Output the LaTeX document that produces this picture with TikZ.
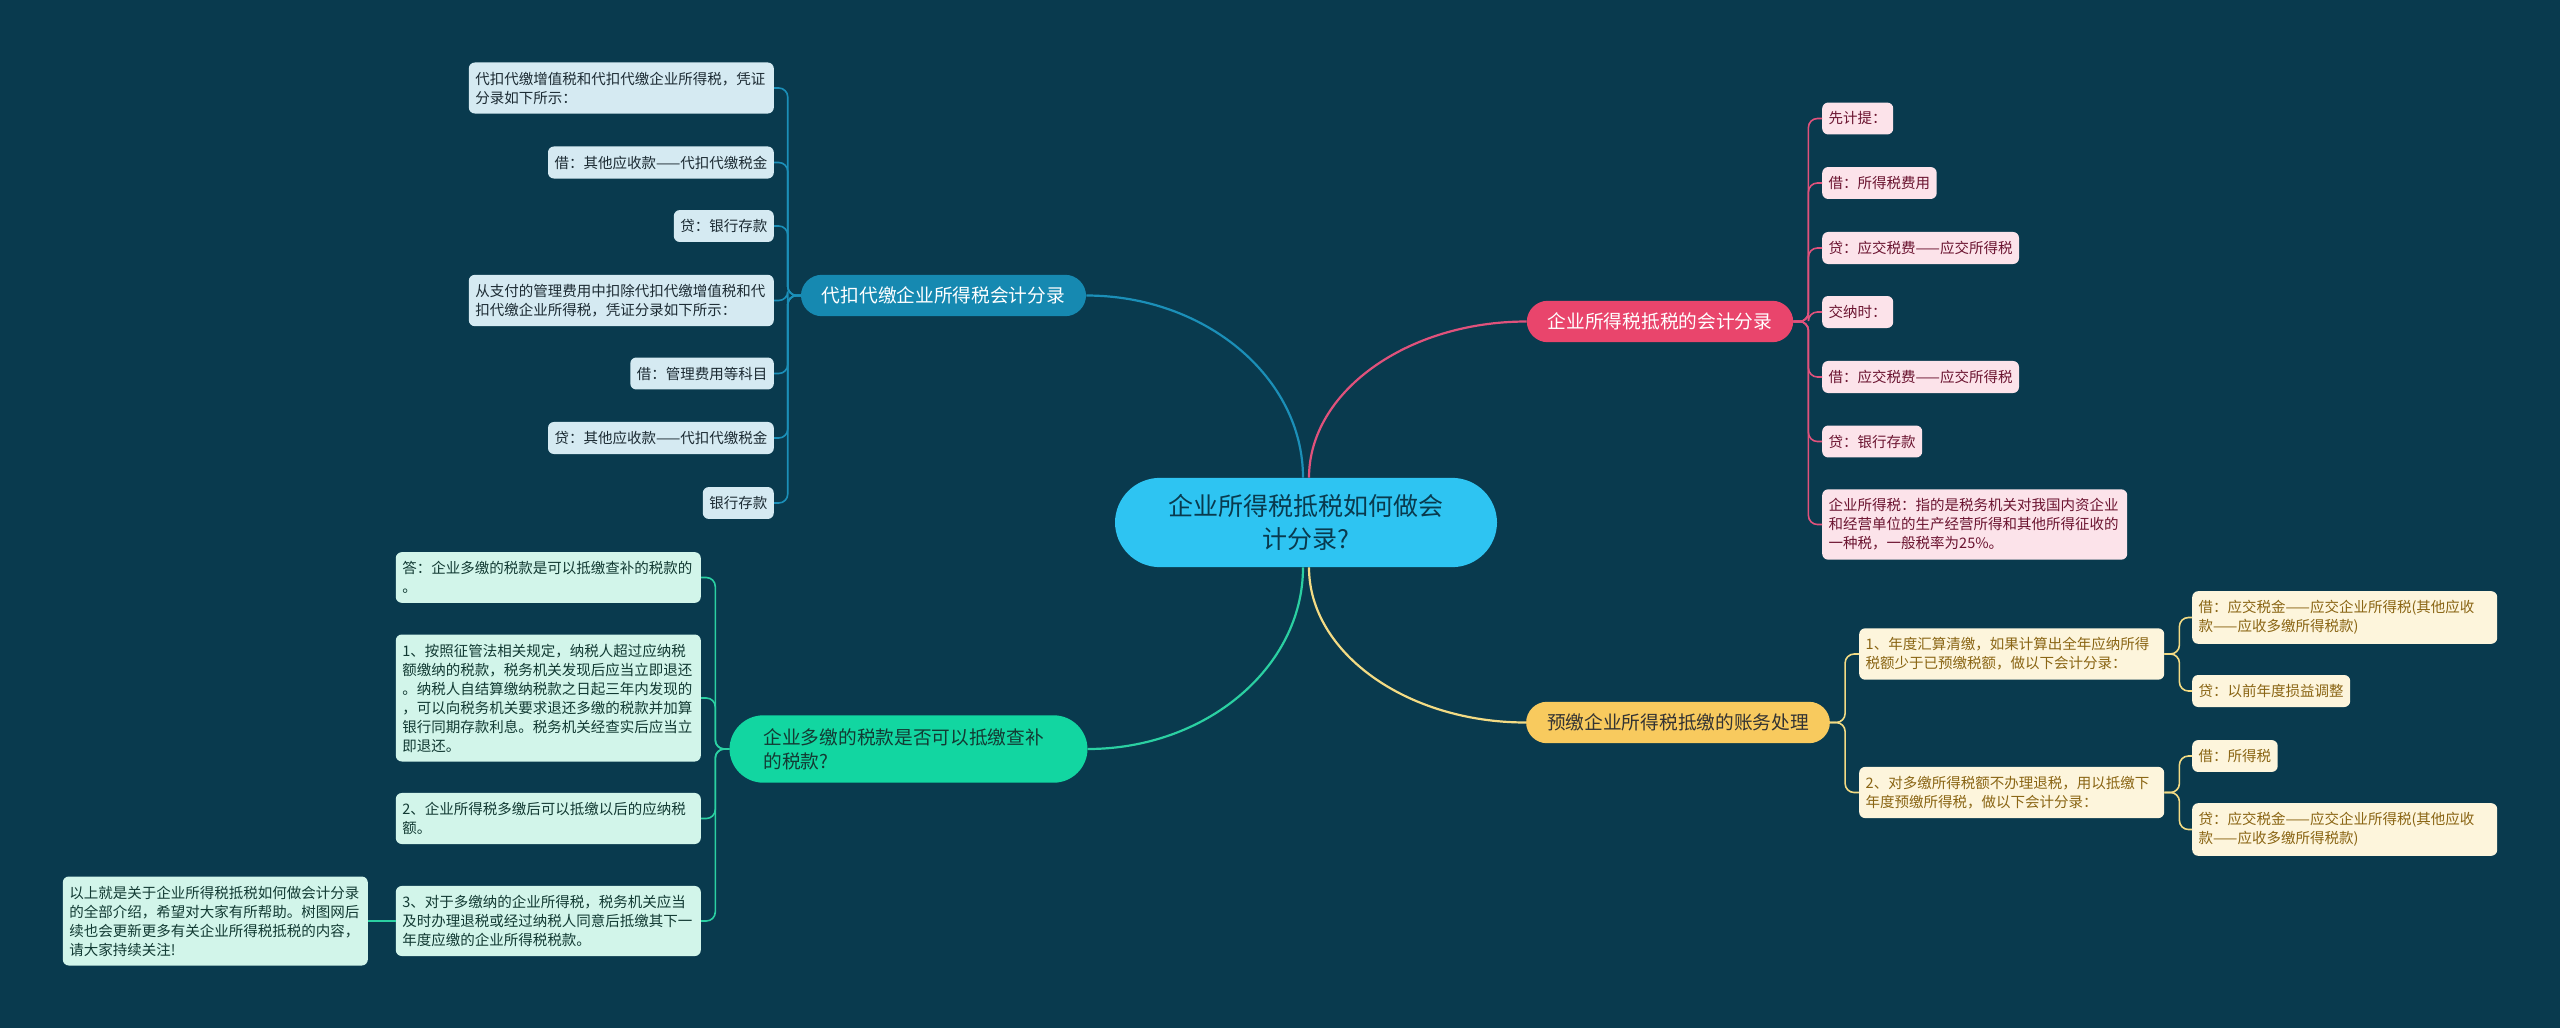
\documentclass[tikz,border=0pt]{standalone}
\usepackage{fontspec}
\setmainfont{Noto Sans CJK SC}
\usetikzlibrary{calc}

\definecolor{bgcol}{HTML}{093A4E}
\definecolor{rootcol}{HTML}{2EC4F2}
\definecolor{bluecol}{HTML}{1689B1}
\definecolor{pinkcol}{HTML}{E9456C}
\definecolor{yellowcol}{HTML}{F8CA5E}
\definecolor{greencol}{HTML}{12D6A1}
\definecolor{bluelink}{HTML}{1B8FB8}
\definecolor{pinklink}{HTML}{E0527C}
\definecolor{yellowlink}{HTML}{F3DB84}
\definecolor{greenlink}{HTML}{2BD0A2}
\definecolor{blueleaf}{HTML}{D5EAF2}
\definecolor{pinkleaf}{HTML}{FCE3EA}
\definecolor{yellowleaf}{HTML}{FDF5DC}
\definecolor{greenleaf}{HTML}{D2F5EA}
\definecolor{darktext}{HTML}{1C2B33}
\definecolor{pinktext}{HTML}{6B1430}
\definecolor{goldtext}{HTML}{8A6514}
\definecolor{greentext}{HTML}{123A33}

\tikzset{
  leaf/.style={rounded corners=6pt, inner xsep=6.5pt, inner ysep=9.25pt,
    font=\fontsize{14.5}{19}\selectfont, align=left},
  wide/.style={text width=292pt},
  bleaf/.style={leaf, fill=blueleaf, text=darktext, anchor=east},
  pleaf/.style={leaf, fill=pinkleaf, text=pinktext, anchor=west},
  yleaf/.style={leaf, fill=yellowleaf, text=goldtext, anchor=west},
  gleaf/.style={leaf, fill=greenleaf, text=greentext, anchor=east},
  branch/.style={rounded corners=21pt, inner xsep=21pt, inner ysep=12pt,
    font=\fontsize{18.7}{24}\selectfont},
  trunk/.style={line width=2.2pt},
  twig/.style={line width=1.6pt, rounded corners=9pt}
}

\begin{document}
\begin{tikzpicture}[x=1pt,y=-1pt]

% canvas
\useasboundingbox (0,0) rectangle (2560,1028);
\fill[bgcol] (0,0) rectangle (2560,1028);

% Centre topic
\node[fill=rootcol, text=bgcol, rounded corners=45pt, inner xsep=36pt, inner ysep=16.5pt,
  text width=310pt, align=center, font=\fontsize{25}{33}\selectfont]
  (root) at (1306,522.5) {企业所得税抵税如何做会\\计分录?};

% Main branches
\node[branch, fill=bluecol, text=white] (blue) at (943.5,295.5) {代扣代缴企业所得税会计分录};
\node[branch, fill=pinkcol, text=white] (pink) at (1660,321.5) {企业所得税抵税的会计分录};
\node[branch, fill=yellowcol, text=black!80] (yellow) at (1678,722.5) {预缴企业所得税抵缴的账务处理};
\node[branch, fill=greencol, text=greentext, rounded corners=34pt, inner xsep=34pt, inner ysep=13pt,
  text width=290pt, align=left] (green) at (908.5,749) {企业多缴的税款是否可以抵缴查补\\的税款?};

% Blue leaves
\node[bleaf, wide] (b1) at (774,88) {代扣代缴增值税和代扣代缴企业所得税，凭证\\分录如下所示：};
\node[bleaf] (b2) at (774,162.5) {借：其他应收款——代扣代缴税金};
\node[bleaf] (b3) at (774,226) {贷：银行存款};
\node[bleaf, wide] (b4) at (774,300.5) {从支付的管理费用中扣除代扣代缴增值税和代\\扣代缴企业所得税，凭证分录如下所示：};
\node[bleaf] (b5) at (774,373.5) {借：管理费用等科目};
\node[bleaf] (b6) at (774,438) {贷：其他应收款——代扣代缴税金};
\node[bleaf] (b7) at (774,503) {银行存款};

% Pink leaves
\node[pleaf] (p1) at (1822,118.5) {先计提：};
\node[pleaf] (p2) at (1822,183) {借：所得税费用};
\node[pleaf] (p3) at (1822,248) {贷：应交税费——应交所得税};
\node[pleaf] (p4) at (1822,312) {交纳时：};
\node[pleaf] (p5) at (1822,377) {借：应交税费——应交所得税};
\node[pleaf] (p6) at (1822,441.5) {贷：银行存款};
\node[pleaf, wide] (p7) at (1822,524.5) {企业所得税：指的是税务机关对我国内资企业\\和经营单位的生产经营所得和其他所得征收的\\一种税，一般税率为25\%。};

% Yellow sub topics and leaves
\node[yleaf, wide] (y1) at (1859,654) {1、年度汇算清缴，如果计算出全年应纳所得\\税额少于已预缴税额，做以下会计分录：};
\node[yleaf, wide] (y2) at (1859,792.5) {2、对多缴所得税额不办理退税，用以抵缴下\\年度预缴所得税，做以下会计分录：};
\node[yleaf, wide] (y11) at (2192,617.5) {借：应交税金——应交企业所得税(其他应收\\款——应收多缴所得税款)};
\node[yleaf] (y12) at (2192,691) {贷：以前年度损益调整};
\node[yleaf] (y21) at (2192,756) {借：所得税};
\node[yleaf, wide] (y22) at (2192,829.5) {贷：应交税金——应交企业所得税(其他应收\\款——应收多缴所得税款)};

% Green leaves
\node[gleaf, wide] (g1) at (701,577.5) {答：企业多缴的税款是可以抵缴查补的税款的\\。};
\node[gleaf, wide] (g2) at (701,698) {1、按照征管法相关规定，纳税人超过应纳税\\额缴纳的税款，税务机关发现后应当立即退还\\。纳税人自结算缴纳税款之日起三年内发现的\\，可以向税务机关要求退还多缴的税款并加算\\银行同期存款利息。税务机关经查实后应当立\\即退还。};
\node[gleaf, wide] (g3) at (701,818.5) {2、企业所得税多缴后可以抵缴以后的应纳税\\额。};
\node[gleaf, wide] (g4) at (701,921) {3、对于多缴纳的企业所得税，税务机关应当\\及时办理退税或经过纳税人同意后抵缴其下一\\年度应缴的企业所得税税款。};
\node[gleaf, wide] (g5) at (368,921) {以上就是关于企业所得税抵税如何做会计分录\\的全部介绍，希望对大家有所帮助。树图网后\\续也会更新更多有关企业所得税抵税的内容，\\请大家持续关注!};

% Root to branches
\coordinate (tb) at ([xshift=-3pt]root.north);
\coordinate (tp) at ([xshift=3pt]root.north);
\coordinate (tg) at ([xshift=-3pt]root.south);
\coordinate (ty) at ([xshift=3pt]root.south);
\draw[trunk, bluelink] (tb) .. controls ($(tb)!0.55!(tb|-blue.east)$) and ($(blue.east)!0.55!(blue.east-|tb)$) .. (blue.east);
\draw[trunk, pinklink] (tp) .. controls ($(tp)!0.55!(tp|-pink.west)$) and ($(pink.west)!0.55!(pink.west-|tp)$) .. (pink.west);
\draw[trunk, greenlink] (tg) .. controls ($(tg)!0.55!(tg|-green.east)$) and ($(green.east)!0.55!(green.east-|tg)$) .. (green.east);
\draw[trunk, yellowlink] (ty) .. controls ($(ty)!0.55!(ty|-yellow.west)$) and ($(yellow.west)!0.55!(yellow.west-|ty)$) .. (yellow.west);

% Branches to leaves
\foreach \n in {b1,b2,b3,b4,b5,b6,b7}
  \draw[twig, bluelink] (blue.west) -- ++(-13,0) |- (\n.east);
\foreach \n in {p1,p2,p3,p4,p5,p6,p7}
  \draw[twig, pinklink] (pink.east) -- ++(15,0) |- (\n.west);
\foreach \n in {y1,y2}
  \draw[twig, yellowlink] (yellow.east) -- ++(15,0) |- (\n.west);
\foreach \n in {y11,y12}
  \draw[twig, yellowlink] (y1.east) -- ++(15,0) |- (\n.west);
\foreach \n in {y21,y22}
  \draw[twig, yellowlink] (y2.east) -- ++(15,0) |- (\n.west);
\foreach \n in {g1,g2,g3,g4}
  \draw[twig, greenlink] (green.west) -- ++(-14,0) |- (\n.east);
\draw[twig, greenlink] (g4.west) -- (g5.east);

\end{tikzpicture}
\end{document}
